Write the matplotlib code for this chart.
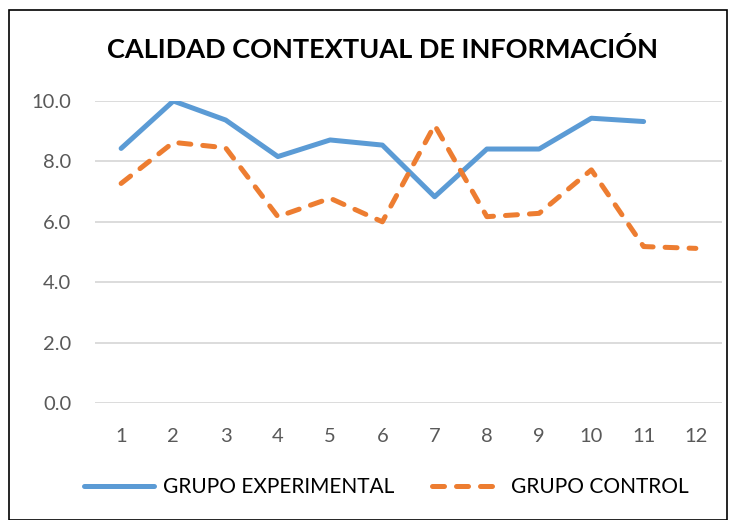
import matplotlib
matplotlib.use("Agg")
import matplotlib.pyplot as plt
from matplotlib.patches import Rectangle

categories = [1, 2, 3, 4, 5, 6, 7, 8, 9, 10, 11, 12]
experimental = [8.43, 10.0, 9.37, 8.16, 8.71, 8.54, 6.83, 8.41, 8.41, 9.43, 9.32]
control = [7.27, 8.63, 8.45, 6.17, 6.78, 6.0, 9.2, 6.17, 6.28, 7.72, 5.18, 5.12]
yticks = [0.0, 2.0, 4.0, 6.0, 8.0, 10.0]
title = "CALIDAD CONTEXTUAL DE INFORMACIÓN"
labels = ["GRUPO EXPERIMENTAL", "GRUPO CONTROL"]

plt.rcParams['font.family'] = ['Lato', 'DejaVu Sans']

fig = plt.figure(figsize=(7.38, 5.2), dpi=100)
ax = fig.add_axes([95/738, (520-403)/520, 627/738, 302/520])

ax.plot(categories[:len(experimental)], experimental, color='#5B9BD5', lw=3.6,
        solid_capstyle='round', solid_joinstyle='round', label=labels[0])
ax.plot(categories[:len(control)], control, color='#ED7D31', lw=3.6,
        linestyle=(0, (2.4, 2.4)), dash_capstyle='round', dash_joinstyle='round',
        label=labels[1])

ax.set_xlim(0.5, 12.5)
ax.set_ylim(0, 10)
ax.set_yticks(yticks)
ax.set_yticklabels([f"{v:.1f}" for v in yticks])
ax.set_xticks(categories)
ax.set_xticklabels([str(c) for c in categories])
ax.grid(axis='y', color='#D9D9D9', lw=1.3)
ax.set_axisbelow(True)
for s in ax.spines.values():
    s.set_visible(False)
ax.tick_params(axis='both', length=0, labelsize=14.5, colors='#595959')
ax.tick_params(axis='x', pad=18)
ax.tick_params(axis='y', pad=17)

fig.text(382/738, 1 - 50/520, title, ha='center', va='center',
         fontsize=19.5, fontweight='bold', color='black')

fig.legend(loc='center', bbox_to_anchor=(386/738, 1 - 487/520), ncol=2,
           frameon=False, fontsize=15, handlelength=3.4, columnspacing=1.8,
           handletextpad=0.4, labelcolor='black')

fig.patches.append(Rectangle((9/738, 0), 718/738, 1 - 10/520, transform=fig.transFigure,
                             fill=False, edgecolor='black', lw=1.2))

fig.savefig('out.png', dpi=100)
